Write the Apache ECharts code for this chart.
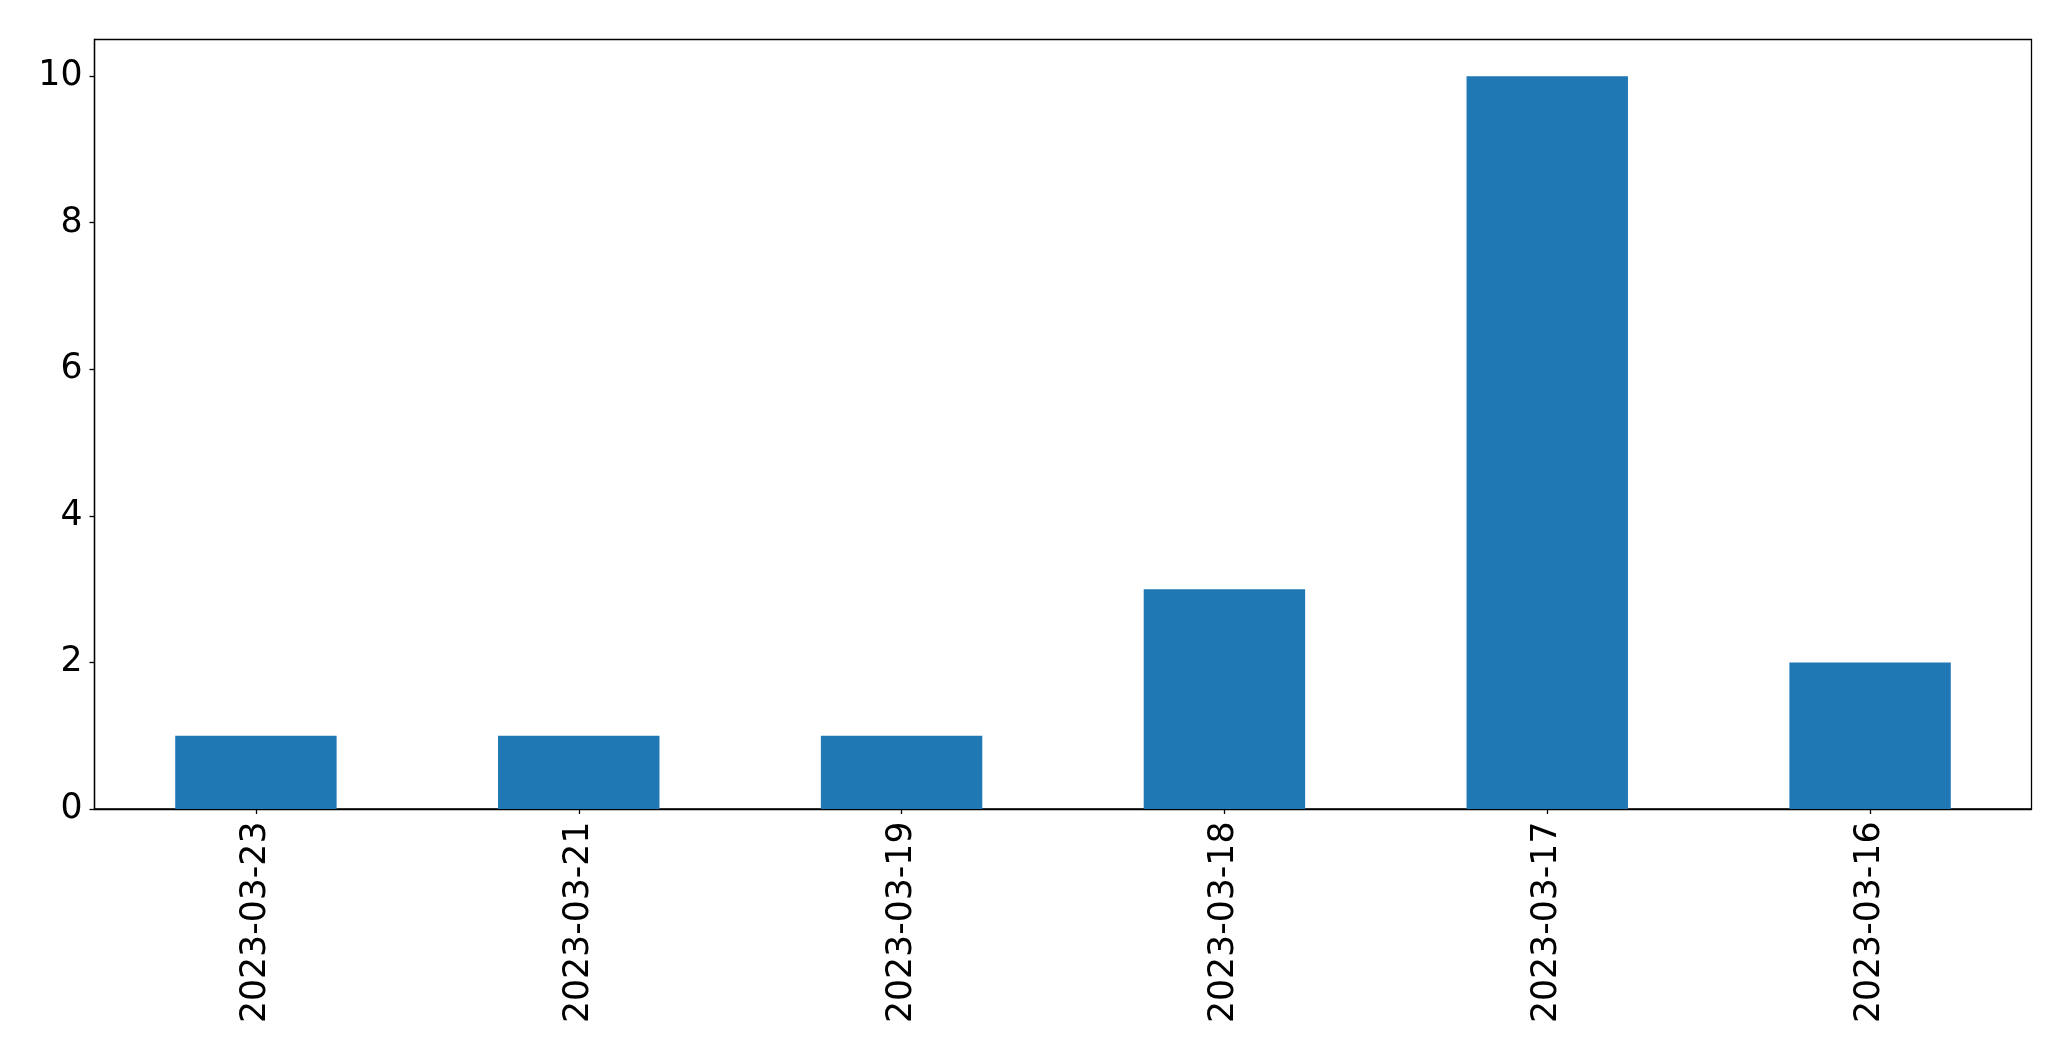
<!DOCTYPE html>
<html><head><meta charset="utf-8">
<script src="https://cdn.jsdelivr.net/npm/echarts@6/dist/echarts.min.js"></script>
<style>html,body{margin:0;padding:0;background:#fff}#c{width:2071px;height:1061px}</style>
</head><body><div id="c"></div>
<script>
const categories = ['2023-03-23','2023-03-21','2023-03-19','2023-03-18','2023-03-17','2023-03-16'];
const counts = [1, 1, 1, 3, 10, 2];
const yTicks = [0, 2, 4, 6, 8, 10];

const chart = echarts.init(document.getElementById('c'), null, {renderer: 'canvas'});
const font = 'DejaVu Sans';
chart.setOption({
  animation: false,
  backgroundColor: '#fff',
  grid: {left: 94.5, right: 39.5, top: 39.5, bottom: 252, show: true, borderColor: '#000', borderWidth: 1.3, backgroundColor: 'transparent'},
  xAxis: {
    type: 'category', data: categories,
    axisLine: {show: true, lineStyle: {color: '#000', width: 1.3}},
    axisTick: {show: true, alignWithLabel: true, length: 5, lineStyle: {color: '#000', width: 1.3}},
    axisLabel: {rotate: 90, margin: 12.5, color: '#000', fontSize: 34.7, fontFamily: font},
    splitLine: {show: false}
  },
  yAxis: {
    type: 'value', min: 0, max: 10.5, interval: 2,
    axisLine: {show: true, lineStyle: {color: '#000', width: 1.3}},
    axisTick: {show: true, length: 5, lineStyle: {color: '#000', width: 1.3}, customValues: yTicks},
    axisLabel: {margin: 12, color: '#000', fontSize: 34.7, fontFamily: font, customValues: yTicks},
    splitLine: {show: false}
  },
  series: [{
    type: 'bar', data: counts, barWidth: '50%',
    itemStyle: {color: '#1f77b4'}
  }]
});
</script></body></html>
